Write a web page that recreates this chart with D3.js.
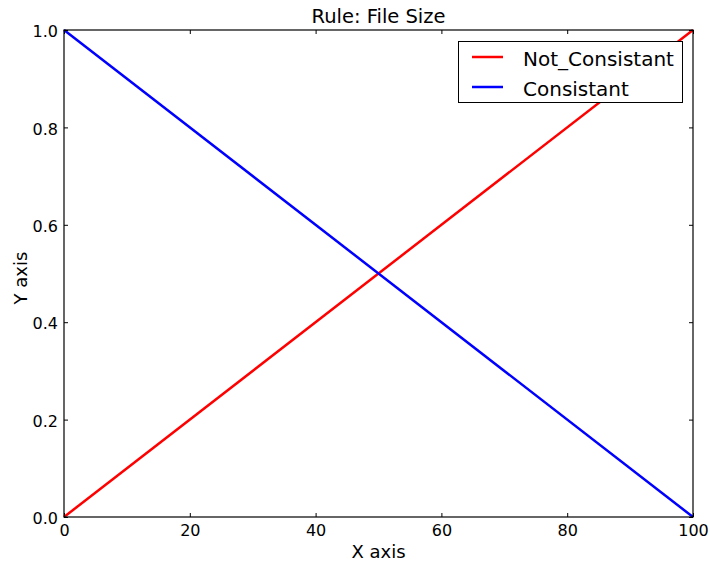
<html>
<head>
	<title>Rule: File Size</title>
	<script type="text/javascript" src="https://cdn.jsdelivr.net/npm/d3@7"></script>
	<style>
		body { margin: 0; background: #fff; }
		text { font-family: "DejaVu Sans", sans-serif; fill: #000; }
	</style>
</head>
<body>
	<script type="text/javascript">
		// Data
		const xValues = [0, 100];
		const notConsistant = [0, 1];
		const consistant = [1, 0];
		const seriesNames = ["Not_Consistant", "Consistant"];
		const seriesColors = ["#ff0000", "#0000ff"];
		const xTicks = [0, 20, 40, 60, 80, 100];
		const yTicks = [0.0, 0.2, 0.4, 0.6, 0.8, 1.0];

		const w = 710;
		const h = 564;
		const margin = { left: 64, top: 30, right: 17, bottom: 47 };
		const pw = w - margin.left - margin.right;
		const ph = h - margin.top - margin.bottom;

		const svg = d3.select("body").append("svg")
			.attr("width", w)
			.attr("height", h);

		const xScale = d3.scaleLinear().domain([0, 100]).range([margin.left, margin.left + pw]);
		const yScale = d3.scaleLinear().domain([0, 1]).range([margin.top + ph, margin.top]);

		// lines
		const series = [notConsistant, consistant];
		const line = d3.line()
			.x(function(d) { return xScale(d[0]); })
			.y(function(d) { return yScale(d[1]); });

		series.forEach(function(vals, i) {
			const pts = xValues.map(function(x, j) { return [x, vals[j]]; });
			svg.append("path")
				.attr("d", line(pts))
				.attr("fill", "none")
				.attr("stroke", seriesColors[i])
				.attr("stroke-width", 2.5);
		});

		// axes - ticks inside, on all sides
		const tl = 4;
		const axBottom = svg.append("g").attr("transform", "translate(0," + (margin.top + ph) + ")")
			.call(d3.axisBottom(xScale).tickValues(xTicks).tickSizeInner(-tl).tickSizeOuter(0).tickPadding(6).tickFormat(d3.format("d")));
		const axTop = svg.append("g").attr("transform", "translate(0," + margin.top + ")")
			.call(d3.axisTop(xScale).tickValues(xTicks).tickSizeInner(-tl).tickSizeOuter(0).tickFormat(""));
		const axLeft = svg.append("g").attr("transform", "translate(" + margin.left + ",0)")
			.call(d3.axisLeft(yScale).tickValues(yTicks).tickSizeInner(-tl).tickSizeOuter(0).tickPadding(6).tickFormat(d3.format(".1f")));
		const axRight = svg.append("g").attr("transform", "translate(" + (margin.left + pw) + ",0)")
			.call(d3.axisRight(yScale).tickValues(yTicks).tickSizeInner(-tl).tickSizeOuter(0).tickFormat(""));

		[axBottom, axTop, axLeft, axRight].forEach(function(g) {
			g.select(".domain").remove();
			g.selectAll("line").attr("stroke", "#000").attr("stroke-width", 1);
			g.selectAll("text").attr("font-size", 16).attr("font-family", "DejaVu Sans").attr("fill", "#000");
		});
		axBottom.selectAll("text").attr("dy", "0.8em");
		axLeft.selectAll("text").attr("dy", "0.42em");

		// frame
		svg.append("rect")
			.attr("x", margin.left)
			.attr("y", margin.top)
			.attr("width", pw)
			.attr("height", ph)
			.attr("fill", "none")
			.attr("stroke", "#000")
			.attr("stroke-width", 1.2);

		// title and axis labels
		svg.append("text")
			.attr("x", margin.left + pw / 2)
			.attr("y", 23)
			.attr("text-anchor", "middle")
			.attr("font-size", 19.5)
			.text("Rule: File Size");

		svg.append("text")
			.attr("x", margin.left + pw / 2)
			.attr("y", 558)
			.attr("text-anchor", "middle")
			.attr("font-size", 18)
			.text("X axis");

		svg.append("text")
			.attr("transform", "translate(27,278) rotate(-90)")
			.attr("text-anchor", "middle")
			.attr("font-size", 18)
			.text("Y axis");

		// legend
		const legend = svg.append("g");
		legend.append("rect")
			.attr("x", 458.5)
			.attr("y", 41.5)
			.attr("width", 224)
			.attr("height", 61)
			.attr("fill", "#fff")
			.attr("stroke", "#000")
			.attr("stroke-width", 1);
		seriesNames.forEach(function(name, i) {
			const yy = 57 + i * 30;
			legend.append("line")
				.attr("x1", 472).attr("x2", 503)
				.attr("y1", yy).attr("y2", yy)
				.attr("stroke", seriesColors[i])
				.attr("stroke-width", 2.5);
			legend.append("text")
				.attr("x", 523)
				.attr("y", yy + 8.5)
				.attr("font-size", 20)
				.text(name);
		});
	</script>
</body>
</html>
